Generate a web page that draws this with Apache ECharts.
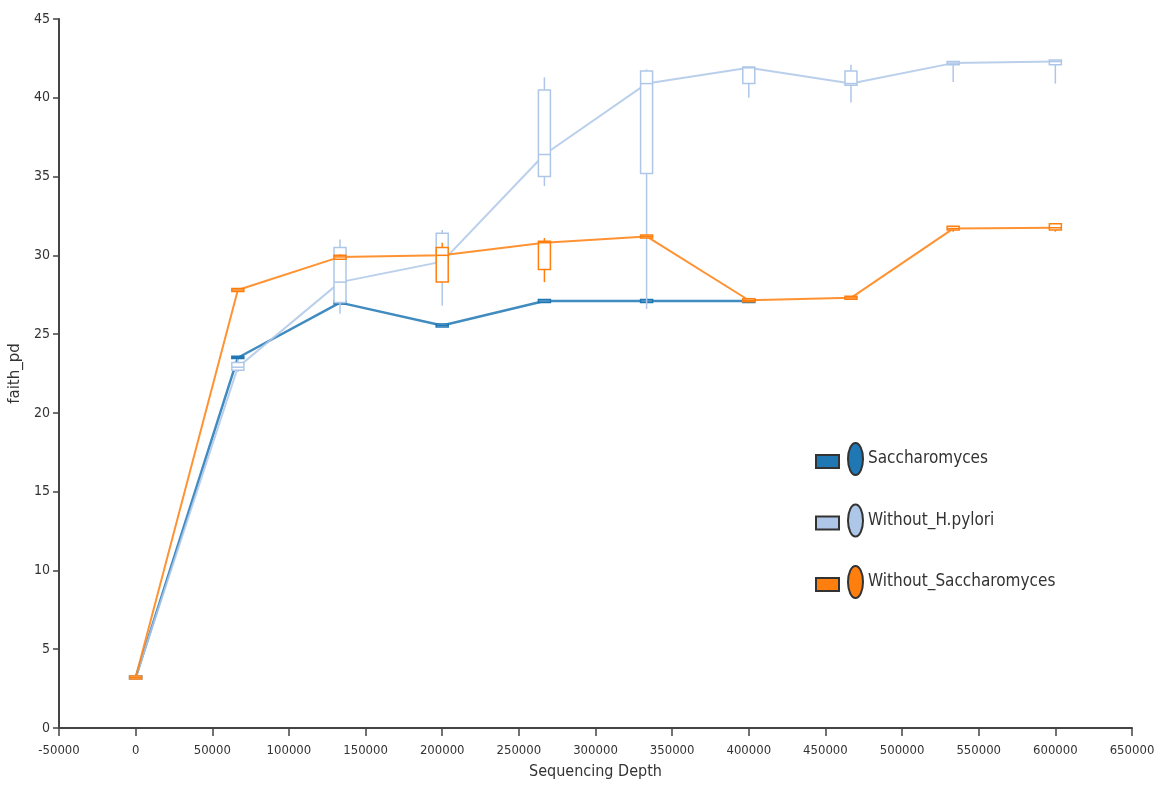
<!DOCTYPE html>
<html>
<head>
<meta charset="utf-8">
<title>faith_pd rarefaction</title>
<script src="https://cdn.jsdelivr.net/npm/echarts@6/dist/echarts.min.js"></script>
<style>
  html, body { margin: 0; padding: 0; background: #fff; }
  #chart { width: 1162px; height: 787px; }
</style>
</head>
<body>
<div id="chart"></div>
<script>
// Rarefaction depths (x positions of every box)
const depths = [1, 66667, 133333, 200000, 266667, 333333, 400000, 466667, 533333, 600000];

// Group names shown in the legend
const groups = ['Saccharomyces', 'Without_H.pylori', 'Without_Saccharomyces'];

// Five-number summaries per depth: [min, q1, median, q3, max]
const saccharomyces = [
  [3.2, 3.2, 3.2, 3.25, 3.25],
  [23.4, 23.45, 23.5, 23.6, 23.6],
  [26.9, 26.95, 27.0, 27.05, 27.05],
  [25.5, 25.5, 25.55, 25.6, 25.6],
  [27.05, 27.05, 27.1, 27.1, 27.1],
  [27.05, 27.05, 27.1, 27.1, 27.1],
  [27.05, 27.05, 27.1, 27.1, 27.1]
];
const withoutHpylori = [
  [3.2, 3.2, 3.2, 3.25, 3.25],
  [22.6, 22.7, 22.9, 23.2, 23.4],
  [26.3, 27.0, 28.3, 30.5, 31.0],
  [26.8, 29.5, 29.6, 31.4, 31.6],
  [34.4, 35.0, 36.4, 40.5, 41.3],
  [26.6, 35.2, 40.9, 41.7, 41.8],
  [40.0, 40.9, 41.9, 41.95, 41.95],
  [39.7, 40.8, 40.9, 41.7, 42.1],
  [41.0, 42.1, 42.2, 42.3, 42.3],
  [40.9, 42.1, 42.3, 42.4, 42.4]
];
const withoutSaccharomyces = [
  [3.2, 3.2, 3.2, 3.25, 3.25],
  [27.7, 27.75, 27.8, 27.85, 27.9],
  [29.7, 29.75, 29.9, 30.0, 30.05],
  [28.3, 28.3, 30.0, 30.5, 30.8],
  [28.3, 29.1, 30.8, 30.9, 31.1],
  [31.1, 31.15, 31.2, 31.25, 31.3],
  [27.1, 27.1, 27.15, 27.2, 27.2],
  [27.2, 27.25, 27.3, 27.35, 27.4],
  [31.5, 31.6, 31.7, 31.85, 31.85],
  [31.5, 31.6, 31.75, 32.0, 32.0]
];

const groupStats = [saccharomyces, withoutHpylori, withoutSaccharomyces];
const colors = ['#1f77b4', '#aec7e8', '#ff7f0e'];
const lineWidths = [2.5, 2, 2];

const narrowFont = "'Liberation Sans Narrow', 'DejaVu Sans Condensed', 'Liberation Sans', sans-serif";

// Legend glyph: a small bar followed by an upright ellipse
const legendIcon = 'path://M0 12 L23 12 L23 25 L0 25 Z M32 16 A7.5 16 0 1 0 47 16 A7.5 16 0 1 0 32 16 Z';

function renderBox(params, api) {
  const x = api.value(0);
  const pMin = api.coord([x, api.value(1)]);
  const pQ1 = api.coord([x, api.value(2)]);
  const pMed = api.coord([x, api.value(3)]);
  const pQ3 = api.coord([x, api.value(4)]);
  const pMax = api.coord([x, api.value(5)]);
  const hw = 6;
  const color = api.visual('color');
  const cx = pMed[0];
  let top = pQ3[1];
  let h = pQ1[1] - pQ3[1];
  if (h < 2) { top = pMed[1] - 1.5; h = 3; }
  const stroke = { stroke: color, lineWidth: 1.5 };
  return {
    type: 'group',
    children: [
      { type: 'line', shape: { x1: cx, y1: pMax[1], x2: cx, y2: pQ3[1] }, style: stroke },
      { type: 'line', shape: { x1: cx, y1: pQ1[1], x2: cx, y2: pMin[1] }, style: stroke },
      { type: 'rect', shape: { x: cx - hw, y: top, width: hw * 2, height: h },
        style: { stroke: color, lineWidth: 1.5, fill: '#ffffff' } },
      { type: 'line', shape: { x1: cx - hw, y1: pMed[1], x2: cx + hw, y2: pMed[1] }, style: stroke }
    ]
  };
}

const boxSeries = groups.map((name, g) => ({
  name: name,
  type: 'custom',
  renderItem: renderBox,
  itemStyle: { color: colors[g] },
  encode: { x: 0, y: [1, 2, 3, 4, 5] },
  data: groupStats[g].map((s, i) => [depths[i]].concat(s)),
  z: 3 + g
}));

const lineSeries = groups.map((name, g) => ({
  name: name,
  type: 'line',
  showSymbol: false,
  symbol: 'none',
  color: colors[g],
  lineStyle: { color: colors[g], width: lineWidths[g], opacity: 0.85 },
  data: groupStats[g].map((s, i) => [depths[i], s[2]]),
  z: 2,
  silent: true
}));

const chart = echarts.init(document.getElementById('chart'), null, { renderer: 'canvas' });
chart.setOption({
  animation: false,
  backgroundColor: '#ffffff',
  grid: { left: 59, right: 30, top: 19, bottom: 59 },
  legend: {
    orient: 'vertical',
    left: 810,
    top: 437,
    itemWidth: 47,
    itemHeight: 32,
    itemGap: 27.5,
    icon: legendIcon,
    itemStyle: { borderColor: '#333', borderWidth: 2 },
    textStyle: { fontFamily: narrowFont, fontSize: 17, color: '#333' },
    data: groups
  },
  xAxis: {
    type: 'value',
    min: -50000,
    max: 650000,
    interval: 50000,
    name: 'Sequencing Depth',
    nameLocation: 'middle',
    nameGap: 36,
    nameTextStyle: { fontFamily: narrowFont, fontSize: 16, color: '#333' },
    splitLine: { show: false },
    axisLine: { lineStyle: { color: '#444', width: 2 } },
    axisTick: { length: 8, lineStyle: { color: '#444', width: 1.5 } },
    axisLabel: { fontFamily: narrowFont, fontSize: 13, color: '#333', margin: 16,
      formatter: v => String(v) }
  },
  yAxis: {
    type: 'value',
    min: 0,
    max: 45,
    interval: 5,
    name: 'faith_pd',
    nameLocation: 'middle',
    nameGap: 31,
    nameTextStyle: { fontFamily: 'DejaVu Sans', fontSize: 15, color: '#333' },
    splitLine: { show: false },
    axisLine: { onZero: false, lineStyle: { color: '#444', width: 2 } },
    axisTick: { length: 6, lineStyle: { color: '#444', width: 1.5 } },
    axisLabel: { fontFamily: narrowFont, fontSize: 14, color: '#333', margin: 9 }
  },
  series: boxSeries.concat(lineSeries)
});
</script>
</body>
</html>
